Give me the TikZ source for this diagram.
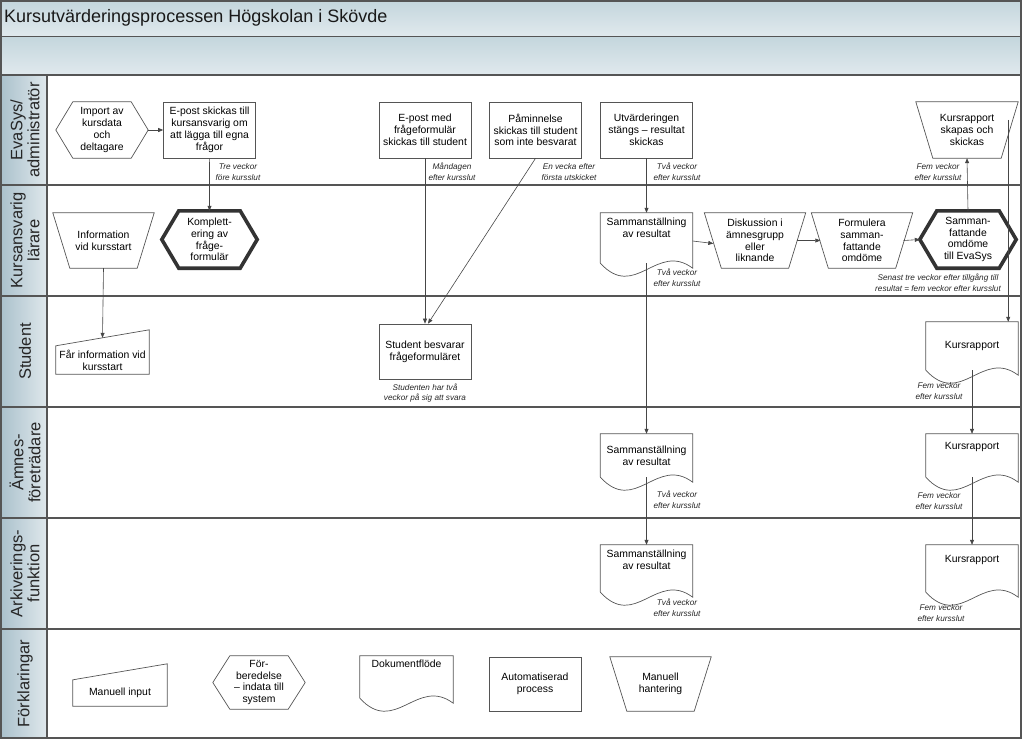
\documentclass[tikz,border=0pt]{standalone}
\usepackage{fontspec}
\setmainfont{Liberation Sans}
\usetikzlibrary{positioning, arrows.meta}
\definecolor{ramgra}{RGB}{85,85,85}
\definecolor{pilgra}{RGB}{70,70,70}
\definecolor{bandmork}{RGB}{196,214,221}
\definecolor{bandljus}{RGB}{224,233,237}
\definecolor{huvudmork}{RGB}{172,194,205}
\definecolor{huvudljus}{RGB}{222,231,235}
\newcommand{\nodtext}{\fontsize{10.4}{11.8}\selectfont}
\newcommand{\nottext}{\fontsize{8.2}{10.8}\selectfont\itshape}
\newcommand{\rubriktext}{\fontsize{16.5}{17}\selectfont}
\newcommand{\titeltext}{\fontsize{18}{20}\selectfont}
\tikzset{
    kontur/.style={draw=ramgra, line width=0.7pt, line join=miter},
    ram/.style={draw=ramgra, line width=1.4pt},
    tjock/.style={draw=black!80, line width=3.6pt},
    process/.style={rectangle, kontur, fill=white, align=center, font=\nodtext, minimum width=92pt, minimum height=56pt, inner sep=1pt},
    % hexagon: forberedelse / indata
    forberedelse/.style={rectangle, align=center, font=\nodtext, minimum width=92pt, minimum height=56pt, inner sep=1pt,
        append after command={\pgfextra{\draw[kontur, #1] (\tikzlastnode.west) -- ([xshift=17pt]\tikzlastnode.north west) -- ([xshift=-17pt]\tikzlastnode.north east) -- (\tikzlastnode.east) -- ([xshift=-17pt]\tikzlastnode.south east) -- ([xshift=17pt]\tikzlastnode.south west) -- cycle;}}},
    forberedelse/.default={},
    % trapets, bred upptill
    manuell/.style={rectangle, align=center, font=\nodtext, minimum width=101pt, minimum height=55pt, inner sep=1pt,
        append after command={\pgfextra{\draw[kontur] (\tikzlastnode.north west) -- (\tikzlastnode.north east) -- ([xshift=-17pt]\tikzlastnode.south east) -- ([xshift=17pt]\tikzlastnode.south west) -- cycle;}}},
    % dokument med vagig underkant
    dokument/.style={rectangle, align=center, font=\nodtext, minimum width=92pt, minimum height=#1, inner sep=1pt,
        append after command={\pgfextra{\draw[kontur] (\tikzlastnode.south west) -- (\tikzlastnode.north west) -- (\tikzlastnode.north east) -- ([yshift=-5pt]\tikzlastnode.south east) .. controls +(-36,-27) and +(35,38) .. (\tikzlastnode.south west);}}},
    dokument/.default=46pt,
    % manuell input, sluttande ovankant
    inmatning/.style={rectangle, align=center, font=\nodtext, minimum width=93pt, minimum height=#1, inner sep=1pt,
        append after command={\pgfextra{\draw[kontur] (\tikzlastnode.south west) -- (\tikzlastnode.north west) -- ([yshift=16pt]\tikzlastnode.north east) -- (\tikzlastnode.south east) -- cycle;}}},
    inmatning/.default=28pt,
    notering/.style={align=center, font=\nottext, text=black!85, inner sep=0pt},
    banrubrik/.style={rotate=90, align=center, font=\rubriktext, text=black!85, inner sep=0pt},
    pil/.style={draw=pilgra, line width=0.6pt, -{Triangle[length=5pt,width=4pt]}}
}
\begin{document}
\begin{tikzpicture}[x=1pt, y=-1pt]
\useasboundingbox (0,0) rectangle (1024,740);

% rubrikband
\shade[top color=bandmork, bottom color=bandljus] (1,1) rectangle (1021,36);
\shade[top color=bandmork, bottom color=bandljus] (1,37) rectangle (1021,74);
\node[anchor=west, font=\titeltext, text=black!90, inner sep=0pt] (titel) at (4,18) {Kursutvärderingsprocessen Högskolan i Skövde};

% simbanor
\foreach \topp/\botten/\namn/\rubrik in {75/185/ban1/{EvaSys/\\administratör}, 185/296/ban2/{Kursansvarig\\lärare}, 296/407/ban3/{Student}, 407/518/ban4/{Ämnes-\\företrädare}, 518/629/ban5/{Arkiverings-\\funktion}, 629/738/ban6/{Förklaringar}}{
    \shade[left color=huvudmork, right color=huvudljus] (2,\topp) rectangle (46,\botten);
    \node[banrubrik] (\namn) at (25,{(\topp+\botten)/2}) {\rubrik};
    \draw[ram] (1,\topp) -- (1021,\topp);
}
\draw[ram] (1,36.5) -- (1021,36.5);
\draw[ram] (47,75) -- (47,738);
\draw[ram] (1,1) rectangle (1021,738);

% --- EvaSys/administratör ---
\node[forberedelse] (imp) at (102,130) {Import av\\kursdata\\och\\deltagare};
\node[process, right=15pt of imp] (epost1) {E-post skickas till\\kursansvarig om\\att lägga till egna\\frågor};
\node[process] (epost2) at (425,130) {E-post med\\frågeformulär\\skickas till student};
\node[process] (pamin) at (535.5,130) {Påminnelse\\skickas till student\\som inte besvarat};
\node[process] (stangs) at (646.5,130) {Utvärderingen\\stängs – resultat\\skickas};
\node[manuell, minimum width=102pt, minimum height=56pt] (rapskap) at (967,130) {Kursrapport\\skapas och\\skickas};

% --- Kursansvarig lärare ---
\node[manuell] (info) at (103.5,240.5) {Information\\vid kursstart};
\node[forberedelse=tjock, minimum width=95pt, minimum height=57pt] (kompl) at (209.5,239.5) {Komplett-\\ering av\\fråge-\\formulär};
\node[dokument=50pt] (samm1) at (646.5,238) {Sammanställning\\av resultat\\[9pt]};
\node[manuell] (disk) at (755,240.5) {Diskussion i\\ämnesgrupp\\eller\\liknande};
\node[manuell] (form) at (862,240.5) {Formulera\\samman-\\fattande\\omdöme};
\node[forberedelse=tjock, minimum width=96pt, minimum height=57pt] (sammanf) at (968,239.5) {Samman-\\fattande\\omdöme\\till EvaSys};

% --- Student ---
\node[inmatning] (fai) at (102.5,360) {Får information vid\\kursstart};
\node[process, minimum height=55pt] (besvar) at (425,351.5) {Student besvarar\\frågeformuläret};
\node[dokument=48pt] (rap1) at (972,346) {Kursrapport};

% --- Ämnesföreträdare ---
\node[dokument=43pt] (samm2) at (646.5,455.5) {Sammanställning\\av resultat};
\node[dokument=43pt] (rap2) at (972,455.5) {Kursrapport\\[8pt]};

% --- Arkiveringsfunktion ---
\node[dokument=47pt] (samm3) at (646.5,568.5) {Sammanställning\\av resultat\\[6pt]};
\node[dokument=47pt] (rap3) at (972,568.5) {Kursrapport\\[8pt]};

% --- Förklaringar ---
\node[inmatning=26pt, minimum width=94pt] (lmi) at (120,693) {Manuell input};
\node[forberedelse, minimum height=53pt] (lprep) at (259,682.5) {För-\\beredelse\\– indata till\\system};
\node[dokument=42pt, minimum width=93pt] (ldok) at (406.5,677) {Dokumentflöde\\[14pt]};
\node[process, minimum height=54pt] (lauto) at (535,684) {Automatiserad\\process};
\node[manuell, minimum height=54pt] (lman) at (660.5,684) {Manuell\\hantering};

% --- noteringar ---
\node[notering] (n1) at (238,172) {Tre veckor\\före kursslut};
\node[notering] (n2) at (452,172) {Måndagen\\efter kursslut};
\node[notering] (n3) at (569,172) {En vecka efter\\första utskicket};
\node[notering] (n4) at (677,172) {Två veckor\\efter kursslut};
\node[notering] (n5) at (938,172) {Fem veckor\\efter kursslut};
\node[notering] (n6) at (677,278) {Två veckor\\efter kursslut};
\node[notering] (n7) at (938,283) {Senast tre veckor efter tillgång till\\resultat = fem veckor efter kursslut};
\node[notering] (n8) at (425,393) {Studenten har två\\veckor på sig att svara};
\node[notering] (n9) at (939,391) {Fem veckor\\efter kursslut};
\node[notering] (n10) at (677,500) {Två veckor\\efter kursslut};
\node[notering] (n11) at (939,501) {Fem veckor\\efter kursslut};
\node[notering] (n12) at (677,608) {Två veckor\\efter kursslut};
\node[notering] (n13) at (941,613) {Fem veckor\\efter kursslut};

% --- pilar ---
\draw[pil] (imp.east) -- (epost1.west);
\draw[pil] (epost1.south) -- (kompl.north);
\draw[pil] (epost2.south) -- (besvar.north);
\draw[pil] (pamin.south) -- ([xshift=3pt]besvar.north);
\draw[pil] (stangs.south) -- (samm1.north);
\draw[pil] ([yshift=-3pt]samm1.east) -- ([xshift=9pt,yshift=-3pt]disk.west);
\draw[pil] ([xshift=-9pt]disk.east) -- ([xshift=9pt]form.west);
\draw[pil] ([xshift=-9pt]form.east) -- (sammanf.west);
\draw[pil] (sammanf.north) -- (rapskap.south);
\coordinate (rapstart) at ([xshift=-10pt,yshift=-18pt]rapskap.north east);
\draw[pil] (rapstart) -- (rapstart |- rap1.north);
\draw[pil] (info.south) -- ([yshift=8pt]fai.north);
\draw[pil] (samm1.south) -- (samm2.north);
\draw[pil] (samm2.south) -- (samm3.north);
\draw[pil] (rap1.south) -- (rap2.north);
\draw[pil] (rap2.south) -- (rap3.north);
\end{tikzpicture}
\end{document}
